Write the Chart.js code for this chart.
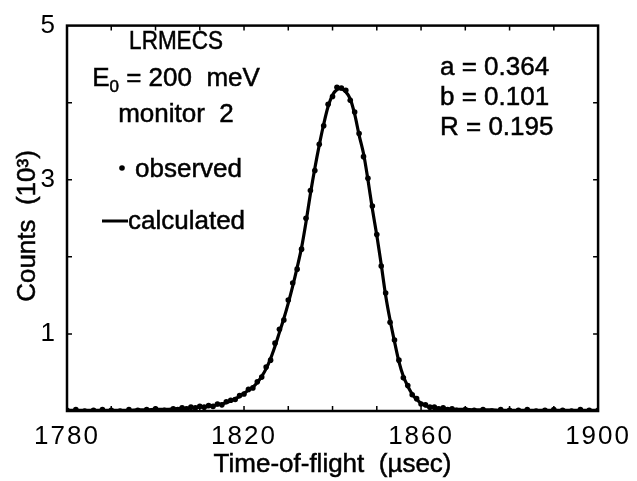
<!DOCTYPE html>
<html>
<head>
<meta charset="utf-8">
<script src="https://cdn.jsdelivr.net/npm/chart.js@4/dist/chart.umd.min.js"></script>
<style>
  html, body { margin: 0; padding: 0; background: #fff; }
  #wrap { width: 637px; height: 481px; }
</style>
</head>
<body>
<div id="wrap"><canvas id="tofChart" width="637" height="481"></canvas></div>
<script>
// time-of-flight channels (usec)
const tof = [
  1780, 1782, 1784, 1786, 1788, 1790, 1792, 1794, 1796, 1798, 1800, 1802, 1804,
  1805, 1806, 1807, 1808, 1809, 1810, 1811, 1812, 1813, 1814, 1815, 1816, 1817, 1818, 1819,
  1820, 1821, 1822, 1823, 1824, 1825, 1826, 1827, 1828, 1829, 1830, 1831, 1832, 1833, 1834,
  1835, 1836, 1837, 1838, 1839, 1840, 1841, 1842, 1843, 1844, 1845, 1846, 1847, 1848, 1849,
  1850, 1851, 1852, 1853, 1854, 1855, 1856, 1857, 1858, 1859, 1860, 1861, 1862, 1863, 1864,
  1865, 1866, 1867, 1868,
  1870, 1872, 1874, 1876, 1878, 1880, 1882, 1884, 1886, 1888, 1890, 1892, 1894, 1896, 1898, 1900
];

// counts (10^3), fitted curve
const calculated = [
  0.01, 0.01, 0.01, 0.01, 0.01, 0.01, 0.01, 0.01, 0.015, 0.015, 0.02, 0.02, 0.025,
  0.03, 0.03, 0.035, 0.04, 0.045, 0.05, 0.055, 0.06, 0.07, 0.08, 0.09, 0.11, 0.13, 0.16, 0.19,
  0.23, 0.27, 0.31, 0.37, 0.45, 0.55, 0.68, 0.84, 1.02, 1.20, 1.40, 1.62, 1.86, 2.12, 2.45,
  2.82, 3.15, 3.45, 3.72, 3.95, 4.10, 4.17, 4.18, 4.14, 4.05, 3.85, 3.58, 3.34, 3.00, 2.62,
  2.28, 1.90, 1.50, 1.18, 0.90, 0.64, 0.45, 0.32, 0.22, 0.15, 0.10, 0.07, 0.05, 0.04, 0.035,
  0.03, 0.025, 0.02, 0.02,
  0.02, 0.015, 0.015, 0.015, 0.01, 0.01, 0.01, 0.01, 0.01, 0.01, 0.01, 0.01, 0.01, 0.01, 0.01, 0.01
];

// counts (10^3), measured
const observed = [
  0.01, 0.02, 0.00, 0.01, 0.02, 0.01, 0.00, 0.02, 0.01, 0.02, 0.03, 0.01, 0.03,
  0.02, 0.04, 0.03, 0.05, 0.04, 0.06, 0.05, 0.07, 0.06, 0.09, 0.08, 0.12, 0.14, 0.15, 0.20,
  0.22, 0.28, 0.30, 0.38, 0.44, 0.57, 0.66, 0.88, 1.06, 1.18, 1.44, 1.66, 1.84, 2.10, 2.50,
  2.86, 3.12, 3.46, 3.70, 3.98, 4.08, 4.20, 4.19, 4.16, 4.03, 3.88, 3.60, 3.30, 3.02, 2.66,
  2.29, 1.88, 1.53, 1.15, 0.92, 0.66, 0.43, 0.33, 0.21, 0.16, 0.09, 0.08, 0.05, 0.05, 0.03,
  0.04, 0.02, 0.03, 0.01,
  0.02, 0.01, 0.02, 0.00, 0.02, 0.01, 0.01, 0.02, 0.00, 0.01, 0.02, 0.01, 0.00, 0.02, 0.01, 0.01
];

const xTicks = [1780, 1820, 1860, 1900];
const yTickLabels = [1, 3, 5];

const xTitle = "Time-of-flight  (\u00b5sec)";
const yTitle = "Counts  (10\u00b3)";
const infoLeft = ["LRMECS", "E", "0", " = 200  meV", "monitor  2"];
const infoRight = ["a = 0.364", "b = 0.101", "R = 0.195"];

const FONT = "'Liberation Sans', Arial, Helvetica, sans-serif";

// text with a light stroke so it reads as heavy as the scanned lettering
function txt(ctx, s, x, y, align, sx) {
  ctx.save();
  ctx.translate(x, y);
  ctx.scale(sx || 1, 1);
  ctx.textAlign = align;
  ctx.fillText(s, 0, 0);
  ctx.strokeText(s, 0, 0);
  ctx.restore();
}

const framePlugin = {
  id: "frame",
  beforeDraw(chart) {
    // spaced-out tick numbers
    chart.ctx.letterSpacing = "2px";
  },
  afterDraw(chart) {
    const { ctx, chartArea: a, scales } = chart;
    const xs = scales.x, ys = scales.y;
    ctx.letterSpacing = "0px";
    ctx.save();
    ctx.strokeStyle = "#000";
    ctx.lineWidth = 2.5;
    ctx.strokeRect(a.left, a.top, a.right - a.left, a.bottom - a.top);

    ctx.lineWidth = 1.5;
    ctx.beginPath();
    for (let v = 1790; v < 1900; v += 10) {
      const px = xs.getPixelForValue(v);
      ctx.moveTo(px, a.bottom); ctx.lineTo(px, a.bottom - 5);
      ctx.moveTo(px, a.top); ctx.lineTo(px, a.top + 5);
    }
    for (let v = 1; v < 5; v++) {
      const py = ys.getPixelForValue(v);
      ctx.moveTo(a.left, py); ctx.lineTo(a.left + 5, py);
      ctx.moveTo(a.right, py); ctx.lineTo(a.right - 5, py);
    }
    ctx.stroke();

    ctx.fillStyle = "#000";
    ctx.lineWidth = 0.5;
    ctx.textBaseline = "middle";

    // axis titles
    ctx.font = "26px " + FONT;
    txt(ctx, xTitle, (a.left + a.right) / 2, 465, "center");
    ctx.save();
    ctx.translate(28, 226);
    ctx.rotate(-Math.PI / 2);
    txt(ctx, yTitle, 0, 0, "center");
    ctx.restore();

    // left block
    const cx = 176;
    ctx.font = "25px " + FONT;
    txt(ctx, infoLeft[0], cx, 42, "center", 0.9);
    ctx.font = "17px " + FONT;
    const wSub = ctx.measureText(infoLeft[2]).width;
    ctx.font = "26px " + FONT;
    const wE = ctx.measureText(infoLeft[1]).width;
    const wRest = ctx.measureText(infoLeft[3]).width;
    const ex = cx - (wE + wSub + wRest) / 2;
    txt(ctx, infoLeft[1], ex, 79, "left");
    ctx.font = "17px " + FONT;
    txt(ctx, infoLeft[2], ex + wE, 87, "left");
    ctx.font = "26px " + FONT;
    txt(ctx, infoLeft[3], ex + wE + wSub, 79, "left");
    txt(ctx, infoLeft[4], cx, 115, "center");

    // legend
    ctx.beginPath();
    ctx.arc(122, 168, 2.8, 0, Math.PI * 2);
    ctx.fill();
    ctx.lineWidth = 0.5;
    txt(ctx, "observed", 135, 170, "left");
    ctx.lineWidth = 3;
    ctx.beginPath();
    ctx.moveTo(102, 221); ctx.lineTo(128, 221);
    ctx.stroke();
    ctx.lineWidth = 0.5;
    txt(ctx, "calculated", 128, 222, "left");

    // fit parameters
    infoRight.forEach((t, i) => txt(ctx, t, 440, 68 + i * 30, "left"));
    ctx.restore();
  }
};

new Chart(document.getElementById("tofChart"), {
  type: "line",
  data: {
    datasets: [
      {
        label: "calculated",
        data: tof.map((t, i) => ({ x: t, y: calculated[i] })),
        borderColor: "#000",
        borderWidth: 3.2,
        pointRadius: 0,
        tension: 0.3,
        fill: false,
        order: 2
      },
      {
        label: "observed",
        data: tof.map((t, i) => ({ x: t, y: observed[i] })),
        showLine: false,
        pointRadius: 2.8,
        pointBackgroundColor: "#000",
        pointBorderColor: "#000",
        pointBorderWidth: 0,
        order: 1
      }
    ]
  },
  options: {
    responsive: false,
    animation: false,
    layout: { padding: { top: 9, right: 30, left: 0, bottom: 0 } },
    plugins: { legend: { display: false }, tooltip: { enabled: false } },
    scales: {
      x: {
        type: "linear",
        min: 1780,
        max: 1900,
        afterBuildTicks: (s) => { s.ticks = xTicks.map((v) => ({ value: v })); },
        afterFit: (s) => { s.height = 70; },
        grid: { display: false, drawTicks: false },
        border: { display: false },
        ticks: {
          color: "#000",
          padding: 10,
          maxRotation: 0,
          font: { family: FONT, size: 26 },
          callback: (v) => String(v)
        }
      },
      y: {
        min: 0,
        max: 5,
        afterBuildTicks: (s) => { s.ticks = yTickLabels.map((v) => ({ value: v })); },
        afterFit: (s) => { s.width = 67; },
        grid: { display: false, drawTicks: false },
        border: { display: false },
        ticks: {
          color: "#000",
          padding: 10,
          font: { family: FONT, size: 26 },
          callback: (v) => String(v)
        }
      }
    }
  },
  plugins: [framePlugin]
});
</script>
</body>
</html>
